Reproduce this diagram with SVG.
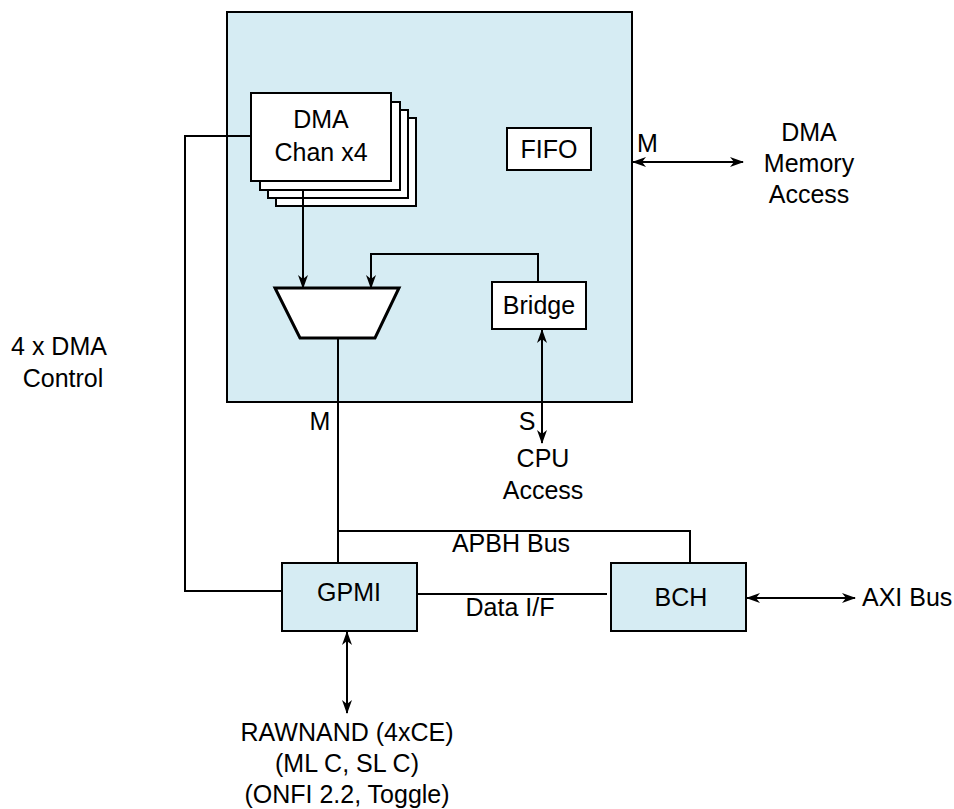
<svg xmlns="http://www.w3.org/2000/svg" width="954" height="809" viewBox="0 0 954 809">
<defs>
<marker id="ah" viewBox="0 0 14 10" refX="13" refY="5" markerWidth="14" markerHeight="10" markerUnits="userSpaceOnUse" orient="auto-start-reverse">
<path d="M0,0 L14,5 L0,10 L4,5 z" fill="#000"/>
</marker>
<style>
.t{font-family:"Liberation Sans",Arial,sans-serif;font-size:25px;fill:#000;text-anchor:middle}
.tl{font-family:"Liberation Sans",Arial,sans-serif;font-size:25px;fill:#000;text-anchor:start}
.blue{fill:#d6ecf3;stroke:#000;stroke-width:2}
.white{fill:#fff;stroke:#000;stroke-width:2}
.ln{fill:none;stroke:#000;stroke-width:2}
.arr{fill:none;stroke:#000;stroke-width:2;marker-end:url(#ah)}
.darr{fill:none;stroke:#000;stroke-width:2;marker-start:url(#ah);marker-end:url(#ah)}
</style>
</defs>
<g id="apbh-dma">
<rect class="blue" x="227" y="12" width="405" height="390"/>
</g>
<g id="dma-chan">
<rect class="white" x="276" y="118" width="140" height="88"/>
<rect class="white" x="268" y="110" width="140" height="88"/>
<rect class="white" x="260" y="102" width="140" height="88"/>
<rect class="white" x="251" y="93" width="140" height="88"/>
<text class="t" x="321" y="128">DMA</text>
<text class="t" x="321" y="161">Chan x4</text>
</g>
<g id="fifo">
<rect class="white" x="507" y="128" width="84" height="42"/>
<text class="t" x="549" y="158">FIFO</text>
</g>
<g id="mux">
<polygon points="275,288 399,288 375,338 300,338" fill="#fff" stroke="#000" stroke-width="3"/>
</g>
<g id="bridge">
<rect class="white" x="492" y="282" width="94" height="47"/>
<text class="t" x="539" y="314">Bridge</text>
</g>
<g id="gpmi">
<rect class="blue" x="282" y="563" width="135" height="68"/>
<text class="t" x="349" y="601">GPMI</text>
</g>
<g id="bch">
<rect class="blue" x="611" y="563" width="135" height="68"/>
<text class="t" x="681" y="606">BCH</text>
</g>
<g id="connectors">
<path class="arr" d="M303,190 L303,288"/>
<path class="arr" d="M538,282 L538,254 L371,254 L371,288"/>
<path class="darr" d="M542,330 L542,443"/>
<path class="darr" d="M633,162 L743,162"/>
<path class="ln" d="M338,338 L338,563"/>
<path class="ln" d="M338,531 L690,531 L690,563"/>
<path class="ln" d="M251,136 L185,136 L185,591 L282,591"/>
<path class="ln" d="M417,594 L607,594"/>
<path class="darr" d="M747,598 L855,598"/>
<path class="darr" d="M347,632 L347,713"/>
</g>
<g id="labels">
<text class="tl" x="637" y="152">M</text>
<text class="t" x="809" y="141">DMA</text>
<text class="t" x="809" y="172">Memory</text>
<text class="t" x="809" y="203">Access</text>
<text class="t" x="320" y="430">M</text>
<text class="t" x="527" y="430">S</text>
<text class="t" x="543" y="467">CPU</text>
<text class="t" x="543" y="499">Access</text>
<text class="t" x="59" y="355">4 x DMA</text>
<text class="t" x="63" y="387">Control</text>
<text class="t" x="511" y="552">APBH Bus</text>
<text class="t" x="510" y="616">Data I/F</text>
<text class="tl" x="862" y="606">AXI Bus</text>
<text class="t" x="347" y="741">RAWNAND (4xCE)</text>
<text class="t" x="347" y="772">(ML C, SL C)</text>
<text class="t" x="347" y="803">(ONFI 2.2, Toggle)</text>
</g>
</svg>
